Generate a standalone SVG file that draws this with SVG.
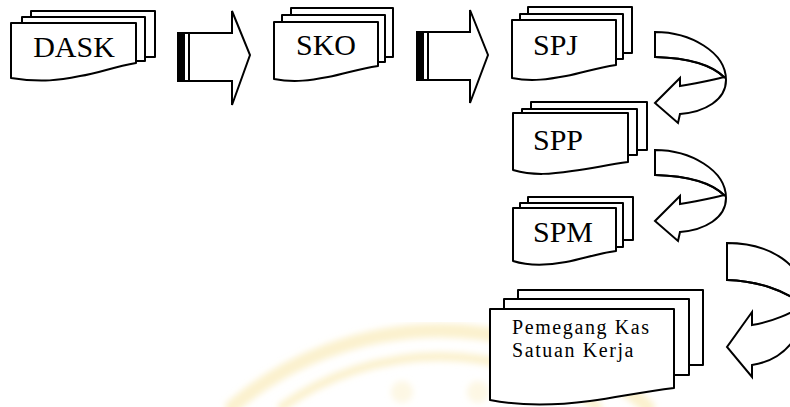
<svg xmlns="http://www.w3.org/2000/svg" width="790" height="407" viewBox="0 0 790 407">
  <defs>
    <filter id="soft" x="-10%" y="-10%" width="120%" height="120%">
      <feGaussianBlur stdDeviation="3"/>
    </filter>
  </defs>
  <style>
    .pg { fill: #fff; stroke: #000; stroke-width: 2; stroke-linejoin: round; }
    .ar { fill: #fff; stroke: #000; stroke-width: 2; stroke-linejoin: miter; }
    .ln { fill: none; stroke: #000; stroke-width: 2; }
    .bar { fill: #000; }
    .wm { fill: none; stroke: #f8e6a6; stroke-linecap: round; opacity: 0.55; }
  </style>

  <rect width="790" height="407" fill="#fff"/>

  <!-- faint emblem in the background -->
  <g id="emblem" filter="url(#soft)">
    <path class="wm" stroke-width="14" d="M232,407 A321,321 0 0 1 648,407"/>
    <path class="wm" stroke-width="9" d="M282,407 A272,272 0 0 1 598,407"/>
    <circle cx="402" cy="392" r="11" fill="#faeec4" opacity="0.45"/>
    <circle cx="478" cy="392" r="11" fill="#faeec4" opacity="0.45"/>
  </g>

  <g font-family="Liberation Serif, serif" fill="#000">
    <!-- DASK -->
    <g id="dask">
      <rect class="pg" x="31" y="11" width="124" height="46"/>
      <rect class="pg" x="22" y="17" width="123" height="44"/>
      <path class="pg" d="M11,23 H136 V63 C112,67 100,73 80,76 C60,80 42,83 11,78 Z"/>
      <text x="74" y="57" font-size="30" text-anchor="middle">DASK</text>
    </g>

    <!-- SKO -->
    <g id="sko">
      <rect class="pg" x="291" y="8" width="102" height="49"/>
      <rect class="pg" x="282" y="15" width="103" height="47"/>
      <path class="pg" d="M274,22 H378 V66 C357,69 345,74 328,77 C312,80 295,83 274,79 Z"/>
      <text x="326" y="55" font-size="30" text-anchor="middle">SKO</text>
    </g>

    <!-- SPJ -->
    <g id="spj">
      <rect class="pg" x="528" y="7" width="104" height="46"/>
      <rect class="pg" x="520" y="14" width="103" height="45"/>
      <path class="pg" d="M512,20 H616 V65 C595,68 583,73 566,76 C550,79 532,82 512,78 Z"/>
      <text x="533" y="55" font-size="30">SPJ</text>
    </g>

    <!-- SPP -->
    <g id="spp">
      <rect class="pg" x="531" y="102" width="116" height="48"/>
      <rect class="pg" x="522" y="109" width="115" height="46"/>
      <path class="pg" d="M513,113 H628 V162 C605,165 592,169 572,171 C552,174 534,176 513,170 Z"/>
      <text x="533" y="150" font-size="30">SPP</text>
    </g>

    <!-- SPM -->
    <g id="spm">
      <rect class="pg" x="528" y="197" width="105" height="43"/>
      <rect class="pg" x="520" y="203" width="103" height="44"/>
      <path class="pg" d="M513,208 H616 V251 C595,254 583,259 566,262 C550,265 532,267 513,261 Z"/>
      <text x="533" y="242" font-size="30">SPM</text>
    </g>

    <!-- Pemegang Kas Satuan Kerja -->
    <g id="pemegang-kas">
      <rect class="pg" x="518" y="290" width="185" height="75"/>
      <rect class="pg" x="504" y="299" width="185" height="76"/>
      <path class="pg" d="M490,309 H674 V388 C640,392 620,397 590,401 C560,405 525,407 490,400 Z"/>
      <text x="512" y="334" font-size="20" letter-spacing="1.6">Pemegang Kas</text>
      <text x="512" y="357" font-size="20" letter-spacing="1.6">Satuan Kerja</text>
    </g>
  </g>

  <g id="connectors">
    <!-- block arrow DASK to SKO -->
    <polygon class="ar" points="178,33 232,33 232,11 250,55 232,105 232,81 178,81"/>
    <rect class="bar" x="178" y="33" width="7" height="48"/>
    <line class="ln" x1="189" y1="33" x2="189" y2="81"/>

    <!-- block arrow SKO to SPJ -->
    <polygon class="ar" points="417,32 470,32 470,10 488,55 470,103 470,80 417,80"/>
    <rect class="bar" x="417" y="32" width="7" height="48"/>
    <line class="ln" x1="428" y1="32" x2="428" y2="80"/>

    <!-- turning arrow SPJ to SPP -->
    <g id="turn-spj-spp">
      <path class="ar" d="M655,32 C690,32 726,52 726,80 C726,100 705,112 680,114 L678,123 L655,103 L680,78 L680,86 C700,83 715,79 725,77 L724,77 C713,66 690,58 655,57 Z"/>
      <path class="ln" d="M655,57 C690,58 713,66 725,78"/>
    </g>

    <!-- turning arrow SPP to SPM -->
    <g id="turn-spp-spm" transform="translate(0,118)">
      <path class="ar" d="M655,32 C690,32 726,52 726,80 C726,100 705,112 680,114 L678,123 L655,103 L680,78 L680,86 C700,83 715,79 725,77 L724,77 C713,66 690,58 655,57 Z"/>
      <path class="ln" d="M655,57 C690,58 713,66 725,78"/>
    </g>

    <!-- turning arrow SPM to Pemegang Kas -->
    <g id="turn-spm-kas">
      <path class="ar" d="M727,243 C770,243 805,265 805,300 C805,335 785,360 752,365 L752,377 L727,347 L752,312 L752,325 C772,322 792,313 803,305 C785,290 757,281 727,280 Z"/>
      <path class="ln" d="M727,280 C757,281 785,290 803,305"/>
    </g>
  </g>
</svg>
